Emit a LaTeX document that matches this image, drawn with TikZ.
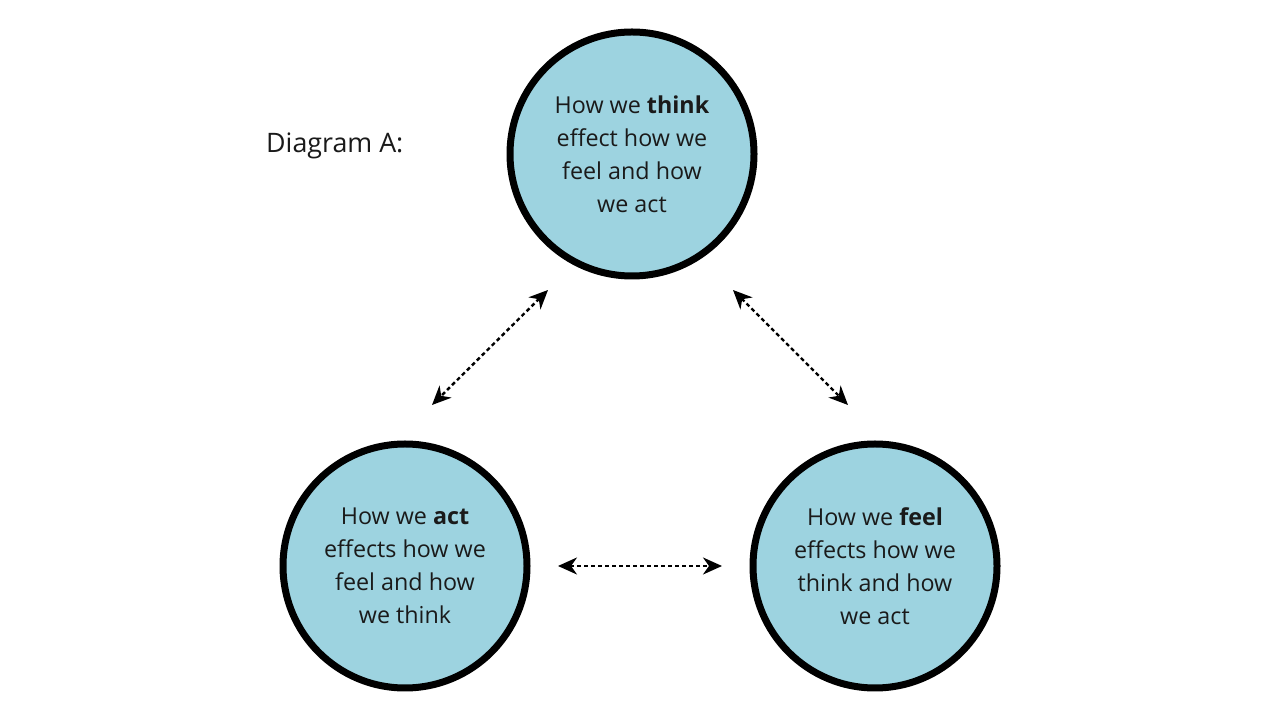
\documentclass[tikz,border=0pt]{standalone}
\usepackage{fontspec}
\setmainfont{Open Sans}
\usetikzlibrary{arrows.meta}
\definecolor{fillblue}{HTML}{9DD3E0}
\definecolor{txt}{HTML}{1A1A1A}
\tikzset{
  bubble/.style={circle, draw=black, line width=7pt, fill=fillblue, minimum size=244pt, inner sep=0pt, align=center, text=txt, font=\fontsize{23.3}{33}\selectfont},
  link/.style={line width=2.4pt, dash pattern=on 4pt off 3pt, {Stealth[length=19pt,width=17pt,inset=6pt]}-{Stealth[length=19pt,width=17pt,inset=6pt]}},
  lbl/.style={text=txt, font=\fontsize{26.8}{33}\selectfont, inner sep=0pt}
}
\begin{document}
\begin{tikzpicture}[x=1pt,y=1pt]
\useasboundingbox (0,0) rectangle (1280,720);
\fill[white] (0,0) rectangle (1280,720);
\node[bubble] (think) at (632,566) {How we \textbf{think}\\effect how we\\feel and how\\we act};
\node[bubble] (act) at (405,154) {How we \textbf{act}\\effects how we\\feel and how\\we think};
\node[bubble] (feel) at (875,154) {How we \textbf{feel}\\effects how we\\think and how\\we act};
\node[lbl, anchor=west] (title) at (266,574) {Diagram A:};
\coordinate (a1) at (548,430);
\coordinate (a2) at (432,315);
\coordinate (b1) at (733,430);
\coordinate (b2) at (848,315);
\coordinate (c1) at (558,154);
\coordinate (c2) at (722,154);
\draw[link] (a1) -- (a2);
\draw[link] (b1) -- (b2);
\draw[link] (c1) -- (c2);
\end{tikzpicture}
\end{document}
